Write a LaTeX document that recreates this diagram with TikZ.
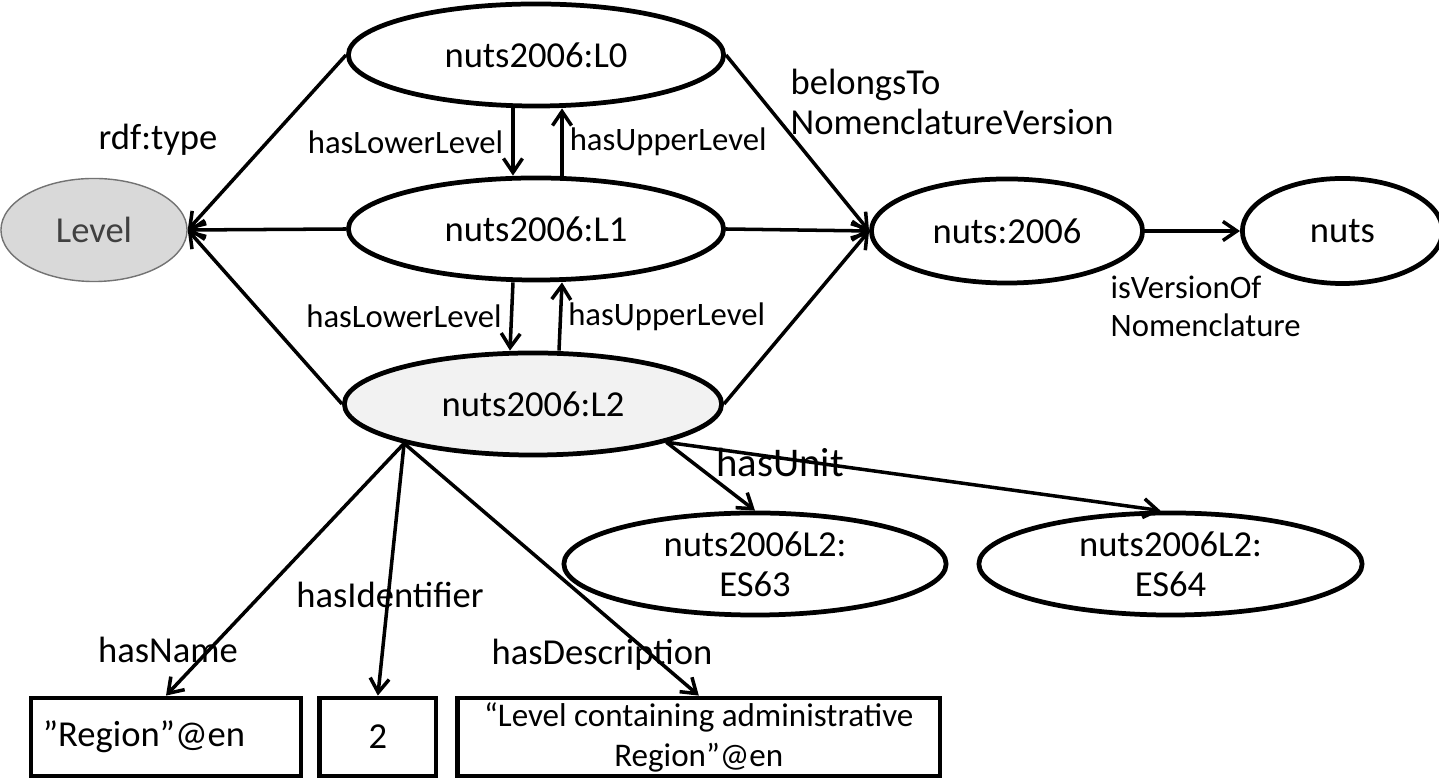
\documentclass[tikz,border=0pt]{standalone}
\usepackage{fontspec}
\setmainfont{Carlito}
\usetikzlibrary{shapes.geometric, arrows.meta}
\usetikzlibrary{positioning}

\begin{document}
\begin{tikzpicture}[
x=0.01cm, y=-0.01cm,
>={Straight Barb[length=1.4mm, width=1.9mm]},
ovalnode/.style={ellipse, draw=black, fill=white, line width=1.35pt, inner sep=0pt, align=center, font=\fontsize{10.4}{11.4}\selectfont},
twolinenode/.style={ovalnode, inner ysep=-0.15cm},
levelnode/.style={ellipse, draw=black!55, fill=black!15, line width=0.4pt, inner sep=0pt, text=black!75, font=\fontsize{10.4}{11.4}\selectfont},
literalnode/.style={rectangle, draw=black, line width=1.35pt, minimum height=0.78cm, inner sep=0pt, align=center, font=\fontsize{10.4}{11.4}\selectfont},
proplink/.style={->, line width=1pt},
proplabel/.style={inner sep=0pt, font=\fontsize{10.4}{11.4}\selectfont},
smalllabel/.style={inner sep=0pt, font=\fontsize{9.3}{10.8}\selectfont},
]
\useasboundingbox (0,0) rectangle (1439,783);

%Nodes
\node[levelnode, minimum width=1.86cm, minimum height=1.03cm] (level_node) at (94,230) {Level};
\node[ovalnode, minimum width=3.75cm, minimum height=1.02cm] (l0_node) at (536,55) {nuts2006:L0};
\node[ovalnode, minimum width=3.75cm, minimum height=1.02cm] (l1_node) at (536,229) {nuts2006:L1};
\node[ovalnode, fill=black!5, minimum width=3.77cm, minimum height=1.02cm] (l2_node) at (533,404) {nuts2006:L2};
\node[ovalnode, minimum width=2.71cm, minimum height=1.04cm] (version_node) at (1007,231) {nuts:2006};
\node[ovalnode, minimum width=2.0cm, minimum height=1.05cm] (nuts_node) [right=0.95cm of version_node] {nuts};
\node[twolinenode, minimum width=3.82cm, minimum height=1.02cm] (es63_node) at (755,564) {nuts2006L2:\\ES63};
\node[twolinenode, minimum width=3.83cm, minimum height=1.02cm] (es64_node) [right=0.28cm of es63_node] {nuts2006L2:\\ES64};
\node[literalnode, minimum width=2.70cm, text width=2.46cm, align=left] (name_node) at (166,737) {”Region”@en};
\node[literalnode, minimum width=1.16cm] (id_node) [right=0.14cm of name_node] {2};
\node[literalnode, minimum width=4.82cm, font=\fontsize{9.4}{11.4}\selectfont] (desc_node) [right=0.17cm of id_node] {“Level containing administrative\\Region”@en};

%Lines
\draw[proplink] (l0_node.west) -- (level_node.east);
\draw[proplink] (l1_node.west) -- (level_node.east);
\draw[proplink] (l2_node.west) -- (level_node.east);
\node[proplabel] (type_label) at (158,140) {rdf:type};

\draw[proplink] ([xshift=-0.23cm]l0_node.south) -- ([xshift=-0.23cm]l1_node.north) node[midway, left=0.08cm, smalllabel] {hasLowerLevel};
\draw[proplink] ([xshift=0.26cm]l1_node.north) -- ([xshift=0.26cm]l0_node.south) node[midway, right=0.06cm, smalllabel] {hasUpperLevel};
\draw[proplink] ([xshift=-0.23cm]l1_node.south) -- ([xshift=-0.23cm]l2_node.north) node[midway, left=0.08cm, smalllabel] {hasLowerLevel};
\draw[proplink] ([xshift=0.26cm]l2_node.north) -- ([xshift=0.26cm]l1_node.south) node[midway, right=0.06cm, smalllabel] {hasUpperLevel};

\draw[proplink] (l0_node.east) -- (version_node.west);
\draw[proplink] (l1_node.east) -- (version_node.west);
\draw[proplink] (l2_node.east) -- (version_node.west);
\node[proplabel, anchor=west, align=left] (belongs_label) at (790,102) {belongsTo\\NomenclatureVersion};

\draw[proplink] (version_node.east) -- (nuts_node.west);
\node[smalllabel, anchor=west, align=left] (version_label) at (1110,306) {isVersionOf\\Nomenclature};

\draw[proplink] (l2_node.-16) -- (es63_node.north);
\draw[proplink] (l2_node.-16) -- ([xshift=-0.1cm]es64_node.north);
\node[proplabel, font=\fontsize{11.6}{12}\selectfont] (unit_label) at (780,462) {hasUnit};

\draw[proplink] (l2_node.197) -- (name_node.north);
\draw[proplink] (l2_node.197) -- (id_node.north);
\draw[proplink] (l2_node.197) -- (desc_node.north);
\node[proplabel] (name_label) at (168,650) {hasName};
\node[proplabel] (id_label) at (390,595) {hasIdentifier};
\node[proplabel] (desc_label) at (602,655) {hasDescription};

\end{tikzpicture}
\end{document}
